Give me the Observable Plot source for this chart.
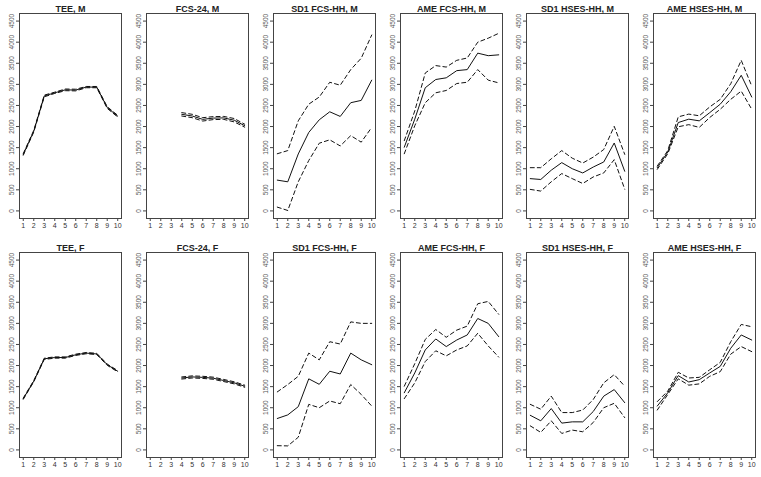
<!DOCTYPE html>
<html>
<head>
<meta charset="utf-8">
<script src="https://cdn.jsdelivr.net/npm/d3@7"></script>
<script src="https://cdn.jsdelivr.net/npm/@observablehq/plot@0.6"></script>
<style>
  html, body { margin: 0; padding: 0; background: #fff; }
  #wrap { position: relative; width: 761px; height: 477px; background: #fff; overflow: hidden; }
  #wrap > svg { position: absolute; }
</style>
</head>
<body>
<div id="wrap"></div>
<script>
// ---- data ----
const xTicks = [1, 2, 3, 4, 5, 6, 7, 8, 9, 10];
const yTicks = [0, 500, 1000, 1500, 2000, 2500, 3000, 3500, 4000, 4500];

const titles = [
  "TEE, M", "FCS-24, M", "SD1 FCS-HH, M", "AME FCS-HH, M", "SD1 HSES-HH, M", "AME HSES-HH, M",
  "TEE, F", "FCS-24, F", "SD1 FCS-HH, F", "AME FCS-HH, F", "SD1 HSES-HH, F", "AME HSES-HH, F"
];

// Males
const teeM_mid = [1340, 1890, 2725, 2800, 2870, 2865, 2935, 2935, 2450, 2245];
const teeM_lo  = [1320, 1870, 2705, 2785, 2850, 2845, 2920, 2920, 2430, 2225];
const teeM_hi  = [1360, 1910, 2745, 2815, 2890, 2885, 2950, 2950, 2470, 2265];

const fcs24M_mid = [null, null, null, 2290, 2250, 2170, 2200, 2205, 2150, 2020];
const fcs24M_lo  = [null, null, null, 2250, 2210, 2130, 2165, 2170, 2110, 1985];
const fcs24M_hi  = [null, null, null, 2330, 2290, 2210, 2235, 2240, 2190, 2055];

const sd1FcsM_mid = [730, 690, 1350, 1860, 2160, 2350, 2240, 2565, 2620, 3100];
const sd1FcsM_lo  = [90, 10, 690, 1195, 1605, 1685, 1540, 1785, 1630, 1980];
const sd1FcsM_hi  = [1355, 1430, 2135, 2530, 2700, 3050, 2980, 3350, 3620, 4170];

const ameFcsM_mid = [1510, 2175, 2920, 3115, 3155, 3325, 3350, 3740, 3680, 3700];
const ameFcsM_lo  = [1355, 2020, 2565, 2800, 2855, 3020, 3050, 3350, 3100, 3035];
const ameFcsM_hi  = [1665, 2370, 3270, 3445, 3410, 3570, 3625, 4000, 4095, 4210];

const sd1HsesM_mid = [765, 745, 965, 1145, 1000, 900, 1040, 1160, 1610, 940];
const sd1HsesM_lo  = [510, 470, 690, 885, 765, 650, 805, 900, 1215, 515];
const sd1HsesM_hi  = [1025, 1025, 1235, 1430, 1250, 1135, 1275, 1455, 2005, 1340];

const ameHsesM_mid = [1025, 1395, 2095, 2175, 2135, 2330, 2530, 2825, 3215, 2700];
const ameHsesM_lo  = [985, 1355, 1995, 2045, 1980, 2215, 2410, 2645, 2840, 2410];
const ameHsesM_hi  = [1065, 1430, 2230, 2295, 2255, 2465, 2645, 3015, 3570, 2960];

// Females
const teeF_mid = [1215, 1630, 2160, 2190, 2190, 2255, 2295, 2275, 2020, 1865];
const teeF_lo  = [1200, 1615, 2145, 2175, 2175, 2240, 2280, 2260, 2005, 1850];
const teeF_hi  = [1230, 1645, 2175, 2205, 2205, 2270, 2310, 2290, 2035, 1880];

const fcs24F_mid = [null, null, null, 1705, 1730, 1720, 1700, 1645, 1590, 1510];
const fcs24F_lo  = [null, null, null, 1680, 1705, 1695, 1675, 1620, 1565, 1485];
const fcs24F_hi  = [null, null, null, 1730, 1755, 1745, 1725, 1670, 1615, 1535];

const sd1FcsF_mid = [745, 830, 1025, 1685, 1555, 1865, 1800, 2295, 2135, 2020];
const sd1FcsF_lo  = [100, 95, 300, 1080, 1000, 1160, 1095, 1550, 1315, 1040];
const sd1FcsF_hi  = [1375, 1550, 1745, 2295, 2135, 2565, 2510, 3035, 3000, 3000];

const ameFcsF_mid = [1355, 1825, 2370, 2630, 2450, 2605, 2725, 3115, 3000, 2685];
const ameFcsF_lo  = [1215, 1590, 2095, 2350, 2230, 2370, 2465, 2765, 2465, 2200];
const ameFcsF_hi  = [1510, 2045, 2620, 2855, 2670, 2840, 2935, 3465, 3520, 3215];

const sd1HsesF_mid = [820, 690, 980, 635, 665, 665, 910, 1275, 1430, 1120];
const sd1HsesF_lo  = [570, 415, 690, 390, 470, 430, 650, 1000, 1105, 765];
const sd1HsesF_hi  = [1080, 965, 1275, 885, 885, 945, 1195, 1590, 1785, 1510];

const ameHsesF_mid = [1040, 1355, 1760, 1610, 1665, 1825, 1980, 2410, 2725, 2605];
const ameHsesF_lo  = [945, 1315, 1685, 1535, 1565, 1745, 1855, 2270, 2450, 2330];
const ameHsesF_hi  = [1145, 1395, 1840, 1705, 1720, 1900, 2075, 2565, 2975, 2920];

const panels = [
  [teeM_mid, teeM_lo, teeM_hi], [fcs24M_mid, fcs24M_lo, fcs24M_hi],
  [sd1FcsM_mid, sd1FcsM_lo, sd1FcsM_hi], [ameFcsM_mid, ameFcsM_lo, ameFcsM_hi],
  [sd1HsesM_mid, sd1HsesM_lo, sd1HsesM_hi], [ameHsesM_mid, ameHsesM_lo, ameHsesM_hi],
  [teeF_mid, teeF_lo, teeF_hi], [fcs24F_mid, fcs24F_lo, fcs24F_hi],
  [sd1FcsF_mid, sd1FcsF_lo, sd1FcsF_hi], [ameFcsF_mid, ameFcsF_lo, ameFcsF_hi],
  [sd1HsesF_mid, sd1HsesF_lo, sd1HsesF_hi], [ameHsesF_mid, ameHsesF_lo, ameHsesF_hi]
];

// ---- drawing ----
const W = 761, H = 477, nCol = 6, nRow = 2;
const cellW = W / nCol, cellH = H / nRow;
const wrap = document.getElementById("wrap");

function toRows(arr) {
  return xTicks.map((x, i) => ({x, y: arr[i]})).filter(d => d.y != null);
}

panels.forEach((p, k) => {
  const col = k % nCol, row = Math.floor(k / nCol);
  const [mid, lo, hi] = p.map(toRows);
  const chart = Plot.plot({
    width: 127,
    height: 239,
    marginLeft: 19,
    marginRight: 6,
    marginTop: 13,
    marginBottom: 21,
    style: {fontFamily: "'Liberation Sans', Arial, sans-serif", background: "transparent", overflow: "visible"},
    x: {domain: [0.64, 10.36]},
    y: {domain: [-180, 4680]},
    marks: [
      Plot.frame({stroke: "#444", strokeWidth: 1}),
      Plot.axisX(xTicks, {tickSize: 3, tickPadding: 2, fontSize: 7, fill: "#333", stroke: "#444", label: null}),
      Plot.axisY(yTicks, {tickSize: 3, tickPadding: 3, tickRotate: -90, textAnchor: "middle", tickFormat: d => String(d), fontSize: 6.5, fill: "#555", stroke: "#444", label: null}),
      Plot.line(lo, {x: "x", y: "y", stroke: "#111", strokeWidth: 1, strokeDasharray: "4,3"}),
      Plot.line(hi, {x: "x", y: "y", stroke: "#111", strokeWidth: 1, strokeDasharray: "4,3"}),
      Plot.line(mid, {x: "x", y: "y", stroke: "#111", strokeWidth: 1}),
      Plot.text([titles[k]], {frameAnchor: "top", dy: -8, text: d => d, fontWeight: "bold", fontSize: 9, fill: "#222"})
    ]
  });
  chart.style.left = (col * cellW) + "px";
  chart.style.top = (row * cellH) + "px";
  wrap.appendChild(chart);
});
</script>
</body>
</html>
